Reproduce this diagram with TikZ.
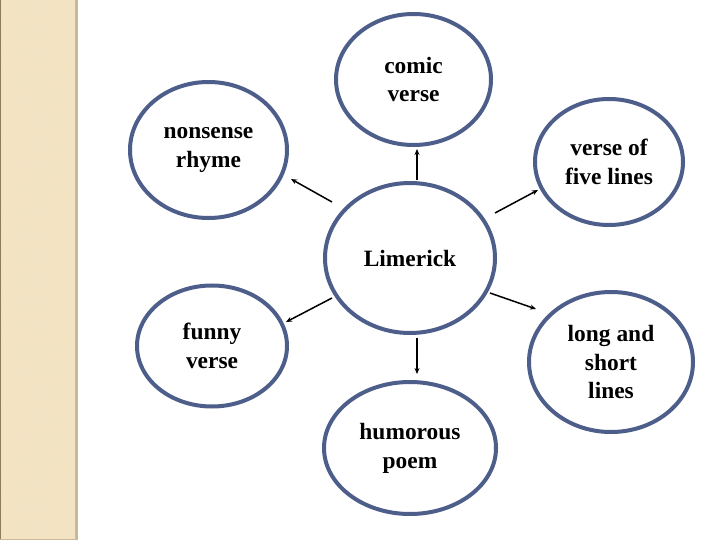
\documentclass[tikz,border=0pt]{standalone}
\usepackage{fontspec}
\setmainfont{Liberation Serif}
\usetikzlibrary{shapes.geometric,arrows.meta,patterns}
\definecolor{stripfill}{HTML}{F4E4BF}
\definecolor{stripedge}{HTML}{C9B998}
\definecolor{stripdark}{HTML}{8C7C5C}
\definecolor{ringblue}{HTML}{4D5E8B}
\tikzset{
  bubble/.style={ellipse, draw=ringblue, line width=4bp, fill=white, inner sep=0pt,
    align=center, font=\fontsize{23.5}{29}\selectfont\bfseries},
  link/.style={line width=1.5bp, -{Stealth[length=6bp,width=5bp]}, black}
}
\begin{document}
\begin{tikzpicture}[x=1bp,y=-1bp]
\useasboundingbox (0,0) rectangle (720,540);
\fill[white] (0,0) rectangle (720,540);
% left decorative strip
\fill[stripfill] (0,0) rectangle (77,540);
\fill[pattern=crosshatch dots, pattern color=stripedge!40] (0,0) rectangle (77,540);
\fill[stripedge] (75,0) rectangle (78,540);
\fill[stripdark] (0,0) rectangle (1.2,540);
\fill[stripedge] (0,538.5) rectangle (78,540);
% nodes
\node[bubble, minimum width=170bp, minimum height=150bp] (lim) at (410,258) {Limerick};
\node[bubble, minimum width=155bp, minimum height=131bp] (comic) at (413.5,79.5) {comic\\verse};
\node[bubble, minimum width=157bp, minimum height=136bp] (nons) at (208.5,150) {nonsense\\rhyme};
\node[bubble, minimum width=148bp, minimum height=126bp] (five) at (609,162) {verse of\\five lines};
\node[bubble, minimum width=164bp, minimum height=140bp] (long) at (611,362) {long and\\short\\lines};
\node[bubble, minimum width=150bp, minimum height=121bp] (funny) at (212,346) {funny\\verse};
\node[bubble, minimum width=172bp, minimum height=132bp] (hum) at (410,448) {humorous\\poem};
% connector end points
\coordinate (c1s) at (417,180);   \coordinate (c1e) at (417,149);
\coordinate (c2s) at (332,202);   \coordinate (c2e) at (291,179);
\coordinate (c3s) at (495,213);   \coordinate (c3e) at (538,190);
\coordinate (c4s) at (332,298);   \coordinate (c4e) at (286,322);
\coordinate (c5s) at (490,293);   \coordinate (c5e) at (536,309);
\coordinate (c6s) at (417,338);   \coordinate (c6e) at (417,374);
\draw[link] (c1s) -- (c1e);
\draw[link] (c2s) -- (c2e);
\draw[link] (c3s) -- (c3e);
\draw[link] (c4s) -- (c4e);
\draw[link] (c5s) -- (c5e);
\draw[link] (c6s) -- (c6e);
\end{tikzpicture}
\end{document}
